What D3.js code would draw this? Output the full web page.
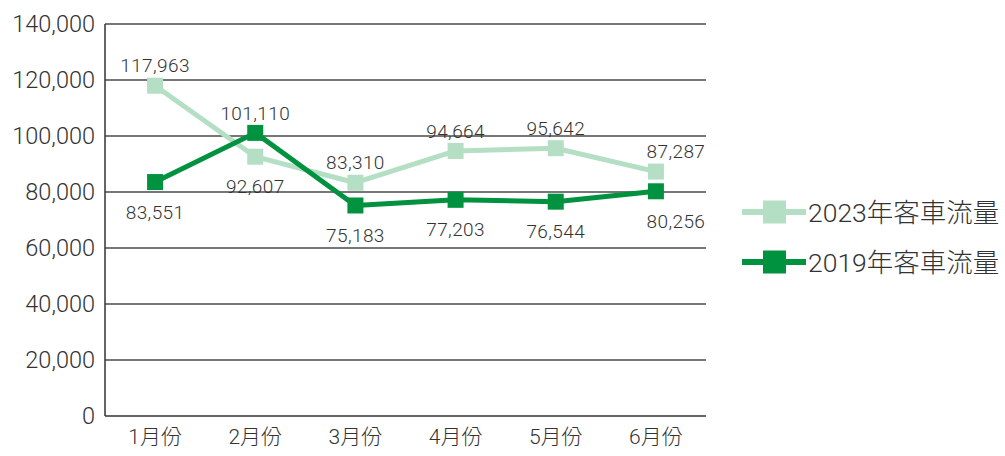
<!DOCTYPE html>
<html>
<head>
<meta charset="utf-8">
<script src="https://cdn.jsdelivr.net/npm/d3@7"></script>
<style>
  body { margin: 0; background: #fff; }
  svg text { font-family: Roboto, "Noto Sans CJK JP", sans-serif; fill: #333; }
</style>
</head>
<body>
<div id="chart"></div>
<script>
// data
const months = ["1月份", "2月份", "3月份", "4月份", "5月份", "6月份"];
const traffic2023 = [117963, 92607, 83310, 94664, 95642, 87287];
const traffic2019 = [83551, 101110, 75183, 77203, 76544, 80256];
const yTicks = [0, 20000, 40000, 60000, 80000, 100000, 120000, 140000];
// label placement: "up" / "down"
const place2023 = ["up", "down", "up", "up", "up", "up"];
const place2019 = ["down", "up", "down", "down", "down", "down"];

const W = 1005, H = 456;
const margin = {top: 24, right: 299, bottom: 40, left: 105};
const width = W - margin.left - margin.right;
const height = H - margin.top - margin.bottom;

const svg = d3.select("#chart").append("svg")
  .attr("width", W)
  .attr("height", H);

const g = svg.append("g")
  .attr("transform", "translate(" + margin.left + "," + margin.top + ")");

const x = d3.scaleBand().domain(months).range([0, width]);
const y = d3.scaleLinear().domain([0, 140000]).range([height, 0]);

// grid
g.selectAll(".grid").data(yTicks.filter(d => d > 0)).enter()
  .append("line")
  .attr("x1", 0).attr("x2", width)
  .attr("y1", d => y(d)).attr("y2", d => y(d))
  .attr("stroke", "#4a4a4a").attr("stroke-width", 1.3);

// axes lines
g.append("line").attr("x1", 0).attr("x2", 0).attr("y1", 0).attr("y2", height)
  .attr("stroke", "#333").attr("stroke-width", 1.5);
g.append("line").attr("x1", 0).attr("x2", width).attr("y1", height).attr("y2", height)
  .attr("stroke", "#333").attr("stroke-width", 1.5);

// y tick labels
g.selectAll(".ytick").data(yTicks).enter()
  .append("text")
  .attr("x", -10)
  .attr("y", d => y(d))
  .attr("dy", "0.36em")
  .attr("text-anchor", "end")
  .style("font-size", "23.5px")
  .style("font-weight", 300)
  .text(d => d3.format(",")(d));

// x tick labels
g.selectAll(".xtick").data(months).enter()
  .append("text")
  .attr("x", d => x(d) + x.bandwidth() / 2)
  .attr("y", height + 28)
  .attr("text-anchor", "middle")
  .style("font-size", "21px")
  .style("font-weight", 300)
  .text(d => d);

const line = d3.line()
  .x((d, i) => x(months[i]) + x.bandwidth() / 2)
  .y(d => y(d));

const series = [
  {data: traffic2023, color: "#b4dfc4", place: place2023},
  {data: traffic2019, color: "#00923f", place: place2019}
];

series.forEach(s => {
  g.append("path")
    .datum(s.data)
    .attr("d", line)
    .attr("fill", "none")
    .attr("stroke", s.color)
    .attr("stroke-width", 5)
    .attr("stroke-linejoin", "round");

  g.selectAll(null).data(s.data).enter()
    .append("rect")
    .attr("x", (d, i) => x(months[i]) + x.bandwidth() / 2 - 8)
    .attr("y", d => y(d) - 8)
    .attr("width", 16).attr("height", 16)
    .attr("fill", s.color);

  g.selectAll(null).data(s.data).enter()
    .append("text")
    .attr("x", (d, i) => x(months[i]) + x.bandwidth() / 2 + (i === 5 ? 20 : 0))
    .attr("y", (d, i) => y(d) + (s.place[i] === "up" ? -20 : 30))
    .attr("dy", "0.35em")
    .attr("text-anchor", "middle")
    .style("font-size", "19px")
    .style("font-weight", 300)
    .style("letter-spacing", "0.4px")
    .text(d => d3.format(",")(d));
});

// legend
const legend = svg.append("g").attr("transform", "translate(742,0)");
const legendItems = [
  {name: "2023年客車流量", color: "#b4dfc4", y: 212},
  {name: "2019年客車流量", color: "#00923f", y: 262}
];
legendItems.forEach(l => {
  legend.append("line")
    .attr("x1", 0).attr("x2", 64)
    .attr("y1", l.y).attr("y2", l.y)
    .attr("stroke", l.color).attr("stroke-width", 6);
  legend.append("rect")
    .attr("x", 21).attr("y", l.y - 11.5)
    .attr("width", 23).attr("height", 23)
    .attr("fill", l.color);
  legend.append("text")
    .attr("x", 66).attr("y", l.y)
    .attr("dy", "0.36em")
    .style("font-size", "26.5px")
    .style("font-weight", 300)
    .text(l.name);
});
</script>
</body>
</html>
